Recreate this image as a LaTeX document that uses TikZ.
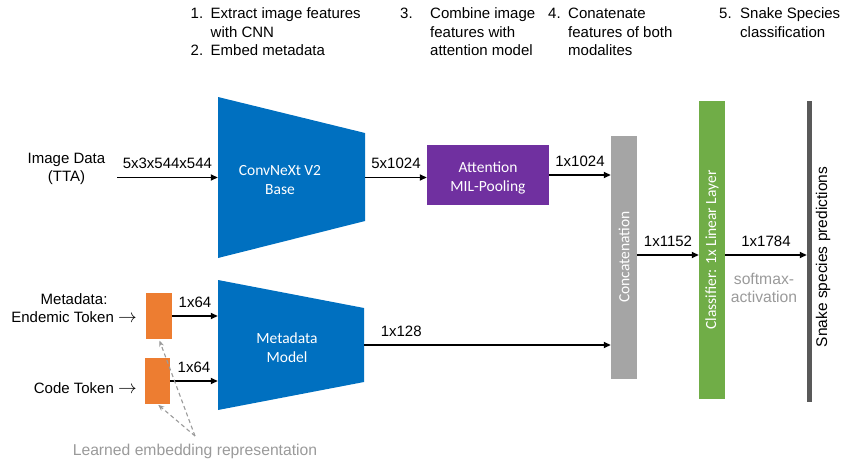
\documentclass[tikz,border=0pt]{standalone}
\usepackage{fontspec}
\setmainfont{Liberation Sans}
\newfontfamily\calfont{Carlito}
\usetikzlibrary{arrows.meta}

\definecolor{cnnblue}{HTML}{0070C0}
\definecolor{attpurple}{HTML}{7030A0}
\definecolor{embedorange}{HTML}{ED7D31}
\definecolor{concatgray}{HTML}{A5A5A5}
\definecolor{clsgreen}{HTML}{70AD47}
\definecolor{predgray}{HTML}{595959}
\definecolor{notegray}{HTML}{9A9A9A}

\tikzset{
  txt/.style={font=\fontsize{15}{18}\selectfont, inner sep=0pt},
  notetxt/.style={font=\fontsize{15.7}{18.5}\selectfont, inner sep=0pt, text=notegray},
  % multi-line captions: the base anchor sits on the last line
  steptxt/.style={txt, anchor=base west, align=left},
  dimlbl/.style={font=\fontsize{15}{18}\selectfont, inner sep=0pt, above=8pt},
  inlbl/.style={font=\calfont\fontsize{15.5}{19}\selectfont, text=white, align=center, inner sep=0pt},
  flow/.style={-{Triangle[length=7pt,width=6pt]}, line width=1.6pt},
  hint/.style={-{Stealth[length=6pt,width=5pt]}, notegray, line width=1.1pt, dash pattern=on 4pt off 3pt},
  bbox/.style={rectangle, inner sep=0pt, minimum width=#1},
  bar/.style={rectangle, inner sep=0pt, draw=none},
}
\newcommand{\tokarrow}{\ \scalebox{1.3}{$\rightarrow$}}

\begin{document}
\begin{tikzpicture}[x=1pt,y=-1pt]
\useasboundingbox (0,0) rectangle (846,463);

% ---- step captions along the top ----
\node[steptxt] (n1) at (190.5,19) {1.};
\node[steptxt] (s1) at (210.5,37) {Extract image features\\with CNN};
\node[steptxt] (n2) at (190.5,55) {2.};
\node[steptxt] (s2) at (210.5,55) {Embed metadata};
\node[steptxt] (n3) at (400,19) {3.};
\node[steptxt] (s3) at (430,55) {Combine image\\features with\\attention model};
\node[steptxt] (n4) at (548,19) {4.};
\node[steptxt] (s4) at (568,55) {Conatenate\\features of both\\modalites};
\node[steptxt] (n5) at (719,19) {5.};
\node[steptxt] (s5) at (740,37) {Snake Species\\classification};

% ---- image branch ----
\node[txt, align=center] (imgdata) at (66.5,169) {Image Data\\(TTA)};
\coordinate (imgin) at (117,177.5);

\fill[cnnblue] (218,97) -- (365,133) -- (365,221) -- (218,258) -- cycle;
\node[bbox=147pt, minimum height=161pt] (cnn) at (291.5,177.5) {};
\node[inlbl] (cnntxt) at (280,180) {ConvNeXt V2\\Base};

\node[bar, fill=attpurple, minimum width=122pt, minimum height=60pt] (att) at (488,175) {};
\node[inlbl] (atttxt) at (488,178) {Attention\\MIL-Pooling};

% ---- metadata branch ----
\node[txt, align=center, anchor=base east] (endtxt) at (137,322) {Metadata:\\Endemic Token\tokarrow};
\node[txt, anchor=base east] (codetxt) at (137,393) {Code Token\tokarrow};

\node[bar, fill=embedorange, minimum width=26pt, minimum height=46pt] (emb1) at (159,316) {};
\node[bar, fill=embedorange, minimum width=25pt, minimum height=46pt] (emb2) at (157.5,381) {};

\fill[cnnblue] (218,280) -- (364,308) -- (364,382) -- (218,410) -- cycle;
\node[bbox=146pt, minimum height=130pt] (meta) at (291,345) {};
\node[inlbl] (metatxt) at (287,348) {Metadata\\Model};

\node[notetxt, anchor=base] (learn) at (195,455) {Learned embedding representation};
\coordinate (fork) at (195,436);

% ---- fusion and classification ----
\node[bar, fill=concatgray, minimum width=26pt, minimum height=243pt] (concat) at (624,257.5) {};
\node[inlbl, rotate=90] (concattxt) at (624,257) {Concatenation};

\node[bar, fill=clsgreen, minimum width=26pt, minimum height=298pt] (cls) at (712,250) {};
\node[inlbl, rotate=90] (clstxt) at (712,250) {Classifier: 1x Linear Layer};

\node[bar, fill=predgray, minimum width=5pt, minimum height=301pt] (pred) at (809.5,251.5) {};
\node[font=\fontsize{15.5}{18}\selectfont, inner sep=0pt, rotate=90, anchor=base] (predtxt) at (827,257) {Snake species predictions};

\node[notetxt, align=center] (soft) at (764,288) {softmax-\\activation};
\coordinate (joinrow) at (0,255);

% ---- connectors ----
\draw[flow] (imgin) -- node[dimlbl] {5x3x544x544} (imgin -| cnn.west);
\draw[flow] (cnn.east) -- node[dimlbl] {5x1024} (cnn.east -| att.west);
\draw[flow] (att.east) -- node[dimlbl] {1x1024} (att.east -| concat.west);
\draw[flow] (emb1.east) -- node[dimlbl] {1x64} (emb1.east -| meta.west);
\draw[flow] (emb2.east) -- node[dimlbl] {1x64} (emb2.east -| meta.west);
\draw[flow] (meta.east) -- node[dimlbl, pos=0.15] {1x128} (meta.east -| concat.west);
\draw[flow] (concat.east |- joinrow) -- node[dimlbl] {1x1152} (cls.west |- joinrow);
\draw[flow] (cls.east |- joinrow) -- node[dimlbl] {1x1784} (pred.west |- joinrow);

\draw[hint, shorten >=1.5pt] (fork) -- (emb1.south);
\draw[hint, shorten >=1pt] (fork) -- (emb2.south);
\end{tikzpicture}
\end{document}
